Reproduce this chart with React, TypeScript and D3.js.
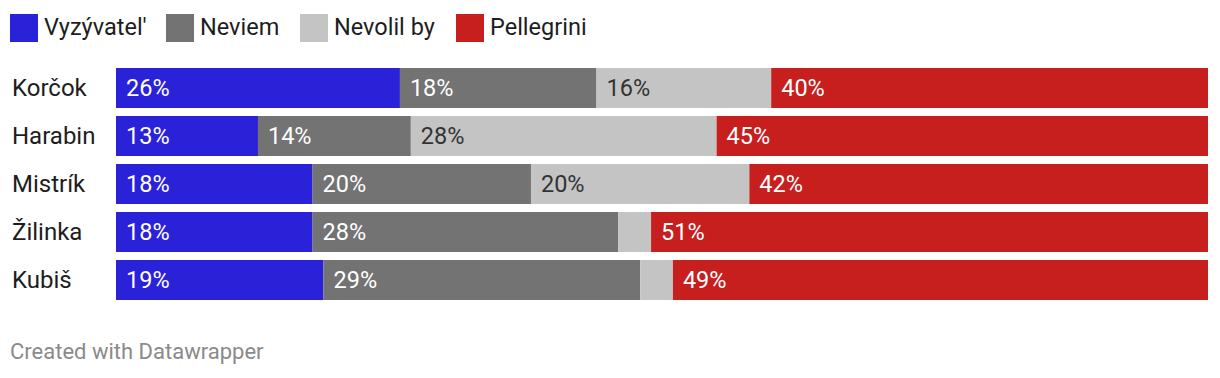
import React from "react";
import * as d3 from "d3";

const categories = ["Korčok", "Harabin", "Mistrík", "Žilinka", "Kubiš"];
const seriesNames = ["Vyzývateľ", "Neviem", "Nevolil by", "Pellegrini"];
const seriesLegend = ["Vyzývatel'", "Neviem", "Nevolil by", "Pellegrini"];
const vyzyvatel = [26, 13, 18, 18, 19];
const neviem = [18, 14, 20, 28, 29];
const nevolil = [16, 28, 20, 3, 3];
const pellegrini = [40, 45, 42, 51, 49];
const colors = ["#2a22d8", "#737373", "#c4c4c4", "#c71e1e"];
const labelColors = ["#ffffff", "#ffffff", "#333333", "#ffffff"];

const W = 1220;
const H = 378;
const FONT = "Roboto, 'Noto Sans', sans-serif";

export default function App() {
  const series = [vyzyvatel, neviem, nevolil, pellegrini];
  const x = d3.scaleLinear().domain([0, 100]).range([116, 1208]);
  const step = 48;
  const bh = 40;
  const y = d3
    .scaleOrdinal<string, number>()
    .domain(categories)
    .range(categories.map((_, i) => 68 + step * i));
  const stackData = categories.map((c, i) => {
    const o: any = { cat: c };
    seriesNames.forEach((s, j) => (o[s] = series[j][i]));
    return o;
  });
  const stacked = d3.stack<any>().keys(seriesNames)(stackData);

  const legendX = [10, 166, 300, 456];

  return (
    <svg
      width={W}
      height={H}
      style={{ position: "absolute", left: 0, top: 0, display: "block", background: "#fff" }}
      fontFamily={FONT}
    >
      {seriesLegend.map((s, i) => (
        <g key={s}>
          <rect x={legendX[i]} y={14} width={28} height={28} fill={colors[i]} />
          <text x={legendX[i] + 34} y={35} fontSize={23.5} fill="#1d1d1d">
            {s}
          </text>
        </g>
      ))}
      {categories.map((c) => (
        <text key={c} x={12} y={y(c) + bh / 2} dy="0.35em" fontSize={24} fill="#1d1d1d">
          {c}
        </text>
      ))}
      {stacked.map((layer, j) => (
        <g key={layer.key}>
          {layer.map((d, i) => {
            const x0 = x(d[0]);
            const x1 = x(d[1]);
            const yy = y(categories[i]);
            return (
              <g key={i}>
                <rect x={x0} y={yy} width={x1 - x0} height={bh} fill={colors[j]} />
                {d[1] - d[0] >= 8 && (
                  <text
                    x={x0 + 10}
                    y={yy + bh / 2}
                    dy="0.35em"
                    fontSize={23.5}
                    fill={labelColors[j]}
                  >
                    {`${d[1] - d[0]}%`}
                  </text>
                )}
              </g>
            );
          })}
        </g>
      ))}
      <text x={10} y={359} fontSize={22} fill="#8a8a8a">
        Created with Datawrapper
      </text>
    </svg>
  );
}
